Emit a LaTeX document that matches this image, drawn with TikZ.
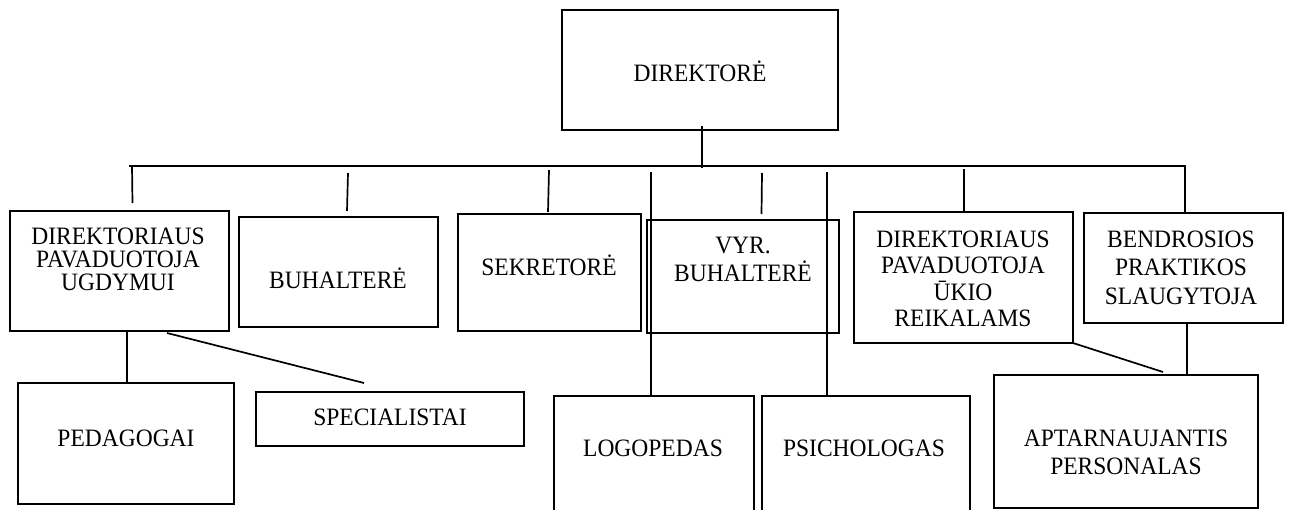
\documentclass[tikz,border=0pt]{standalone}
\usepackage{fontspec}
\setmainfont[FakeStretch=0.94]{Liberation Serif}
\begin{document}
\begin{tikzpicture}[x=1pt,y=-1pt,
  box/.style={draw, line width=2.1pt, inner sep=0pt, outer sep=0pt},
  txt/.style={font=\fontsize{25}{25}\selectfont, inner sep=0pt, anchor=base},
  link/.style={line width=1.7pt}]
\useasboundingbox (0,0) rectangle (1290,509);
\clip (0,0) rectangle (1290,509);
% boxes
\node[box, minimum width=276pt, minimum height=120pt] (dir)  at (700,70) {};
\node[box, minimum width=219pt, minimum height=120pt] (dpu)  at (119.5,271) {};
\node[box, minimum width=199pt, minimum height=110pt] (buh)  at (338.5,272) {};
\node[box, minimum width=183pt, minimum height=117pt] (sek)  at (549.5,272.5) {};
\node[box, minimum width=192pt, minimum height=113pt] (vyr)  at (743,276.5) {};
\node[box, minimum width=219pt, minimum height=131pt] (uk)   at (963.5,277.5) {};
\node[box, minimum width=199pt, minimum height=110pt] (ben)  at (1183.5,268) {};
\node[box, minimum width=216pt, minimum height=121pt] (ped)  at (126,443.5) {};
\node[box, minimum width=268pt, minimum height=54pt]  (spec) at (390,419) {};
\node[box, minimum width=200pt, minimum height=134pt] (logo) at (654,463) {};
\node[box, minimum width=208pt, minimum height=134pt] (psi)  at (866,463) {};
\node[box, minimum width=264pt, minimum height=133pt] (apt)  at (1126,441.5) {};
% texts
\node[txt] (tdir) at (700,81) {DIREKTORĖ};
\node[txt] (tdpu1) at (118,244) {DIREKTORIAUS};
\node[txt] (tdpu2) at (118,267) {PAVADUOTOJA};
\node[txt] (tdpu3) at (118,290) {UGDYMUI};
\node[txt] (tbuh) at (338,288) {BUHALTERĖ};
\node[txt] (tsek) at (549,275.5) {SEKRETORĖ};
\node[txt] (tvyr1) at (743,253) {VYR.};
\node[txt] (tvyr2) at (743,281) {BUHALTERĖ};
\node[txt] (tuk1) at (963,247) {DIREKTORIAUS};
\node[txt] (tuk2) at (963,273.5) {PAVADUOTOJA};
\node[txt] (tuk3) at (963,300) {ŪKIO};
\node[txt] (tuk4) at (963,326.5) {REIKALAMS};
\node[txt] (tben1) at (1181,247) {BENDROSIOS};
\node[txt] (tben2) at (1181,275.5) {PRAKTIKOS};
\node[txt] (tben3) at (1181,304) {SLAUGYTOJA};
\node[txt] (tped) at (126,446) {PEDAGOGAI};
\node[txt] (tspec) at (390,425) {SPECIALISTAI};
\node[txt] (tlogo) at (653,456) {LOGOPEDAS};
\node[txt] (tpsi) at (864,456) {PSICHOLOGAS};
\node[txt] (tapt1) at (1126,446) {APTARNAUJANTIS};
\node[txt] (tapt2) at (1126,474) {PERSONALAS};
% connector end points
\coordinate (busL) at (129,166);
\coordinate (busR) at (1186,166);
\coordinate (stA) at (702,126);   \coordinate (stB) at (702,168);
\coordinate (d1A) at (132,166);   \coordinate (d1B) at (132.5,203);
\coordinate (d2A) at (348,173);   \coordinate (d2B) at (347,211);
\coordinate (d3A) at (549,170);   \coordinate (d3B) at (548,212);
\coordinate (lgA) at (651,172);   \coordinate (lgB) at (651,396);
\coordinate (d4A) at (762,173);   \coordinate (d4B) at (761.5,214);
\coordinate (psA) at (827,172);   \coordinate (psB) at (827,396);
\coordinate (d5A) at (964,169);   \coordinate (d5B) at (964,211);
\coordinate (d6A) at (1185,166);  \coordinate (d6B) at (1185,212);
\coordinate (pdA) at (127,331);   \coordinate (pdB) at (127,383);
\coordinate (spA) at (167,333);   \coordinate (spB) at (364,383);
\coordinate (ukA) at (1073,343);  \coordinate (ukB) at (1163,372);
\coordinate (bnA) at (1187,323);  \coordinate (bnB) at (1187,375);
% connectors
\draw[link] (busL) -- (busR);
\draw[link] (stA) -- (stB);
\draw[link] (d1A) -- (d1B);
\draw[link] (d2A) -- (d2B);
\draw[link] (d3A) -- (d3B);
\draw[link] (lgA) -- (lgB);
\draw[link] (d4A) -- (d4B);
\draw[link] (psA) -- (psB);
\draw[link] (d5A) -- (d5B);
\draw[link] (d6A) -- (d6B);
\draw[link] (pdA) -- (pdB);
\draw[link] (spA) -- (spB);
\draw[link] (ukA) -- (ukB);
\draw[link] (bnA) -- (bnB);
\end{tikzpicture}
\end{document}
